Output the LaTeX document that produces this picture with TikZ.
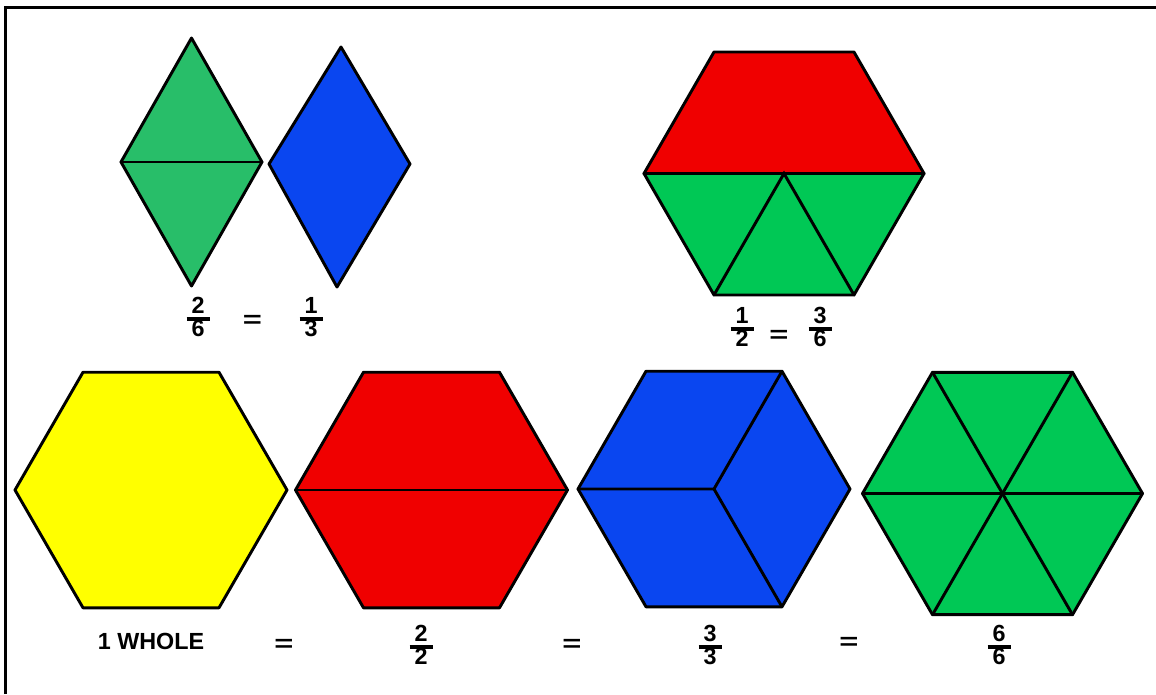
\documentclass[tikz,border=0pt]{standalone}
\usepackage{fontspec}
\setmainfont{Liberation Sans}
\definecolor{pbgreen}{RGB}{0,200,85}
\definecolor{pbgreenA}{RGB}{40,190,105}
\definecolor{pbred}{RGB}{240,0,0}
\definecolor{pbblue}{RGB}{10,70,240}
\definecolor{pbyellow}{RGB}{255,255,0}
% \myfrac{name}{x}{bar y}{numerator}{denominator}
\newcommand{\myfrac}[5]{%
  \node[lbl,anchor=base] (#1n) at (#2,#3-6) {#4};
  \coordinate (#1a) at (#2-11.5,#3);
  \coordinate (#1b) at (#2+11.5,#3);
  \draw[fracbar] (#1a) -- (#1b);
  \node[lbl,anchor=north] (#1d) at (#2,#3+1) {#5};
}
\begin{document}
\begin{tikzpicture}[x=0.75pt,y=-0.75pt,
  piece/.style={draw=black,line width=2.2pt,line join=round},
  inner/.style={draw=black,line width=2.2pt,line cap=round},
  fracbar/.style={draw=black,line width=2.3pt},
  lbl/.style={font=\fontsize{17.5}{18}\selectfont\bfseries,inner sep=0pt,text=black},
  eqs/.style={lbl,xscale=1.4}]
\useasboundingbox (0,0) rectangle (1156,694);
% frame
\coordinate (fb) at (5.5,694);
\coordinate (fc) at (5.5,7.5);
\coordinate (fr) at (1156,7.5);
\draw[line width=2.3pt] (fb) -- (fc) -- (fr);

% ---- green rhombus (two triangles)
\coordinate (gt) at (191.5,38);
\coordinate (gl) at (121,162);
\coordinate (gr) at (262,162);
\coordinate (gb) at (191.5,286);
\filldraw[piece,fill=pbgreenA] (gt) -- (gr) -- (gb) -- (gl) -- cycle;
\draw[inner] (gl) -- (gr);

% ---- blue rhombus
\coordinate (bt) at (341,47);
\coordinate (bl) at (269,164);
\coordinate (br) at (410,164);
\coordinate (bb) at (337,287);
\filldraw[piece,fill=pbblue] (bt) -- (br) -- (bb) -- (bl) -- cycle;

\myfrac{f26}{198}{319}{2}{6}
\node[eqs] (e1) at (252.5,321.5) {=};
\myfrac{f13}{311}{319}{1}{3}

% ---- top hexagon (red trapezoid + 3 green triangles)
\coordinate (hc) at (784,173.5);
\coordinate (hR) at (924,173.5);
\coordinate (hL) at (644,173.5);
\coordinate (hTR) at (854,52);
\coordinate (hTL) at (714,52);
\coordinate (hBR) at (854,295);
\coordinate (hBL) at (714,295);
\filldraw[piece,fill=pbred] (hL) -- (hTL) -- (hTR) -- (hR) -- cycle;
\filldraw[piece,fill=pbgreen] (hL) -- (hR) -- (hBR) -- (hBL) -- cycle;
\draw[inner] (hBL) -- (hc) -- (hBR);

\myfrac{f12}{742}{329}{1}{2}
\node[eqs] (e2) at (779,336.5) {=};
\myfrac{f36}{820}{329}{3}{6}

% ---- yellow hexagon
\coordinate (yc) at (151,490);
\filldraw[piece,fill=pbyellow] (yc) ++(0:136) -- ++(120:136) -- ++(180:136) -- ++(240:136) -- ++(300:136) -- ++(0:136) -- cycle;

% ---- red hexagon split in halves
\coordinate (rc) at (431.5,490);
\coordinate (rL) at (295.5,490);
\coordinate (rR) at (567.5,490);
\filldraw[piece,fill=pbred] (rc) ++(0:136) -- ++(120:136) -- ++(180:136) -- ++(240:136) -- ++(300:136) -- ++(0:136) -- cycle;
\draw[inner] (rL) -- (rR);

% ---- blue hexagon split in thirds
\coordinate (uc) at (714,489);
\coordinate (uL) at (578,489);
\coordinate (uTR) at (782,371.2);
\coordinate (uBR) at (782,606.8);
\filldraw[piece,fill=pbblue] (uc) ++(0:136) -- ++(120:136) -- ++(180:136) -- ++(240:136) -- ++(300:136) -- ++(0:136) -- cycle;
\draw[inner] (uL) -- (uc) -- (uTR);
\draw[inner] (uc) -- (uBR);

% ---- green hexagon split in sixths
\coordinate (sc) at (1002.5,493.5);
\coordinate (s0) at (1142.5,493.5);
\coordinate (s1) at (1072.5,372.3);
\coordinate (s2) at (932.5,372.3);
\coordinate (s3) at (862.5,493.5);
\coordinate (s4) at (932.5,614.7);
\coordinate (s5) at (1072.5,614.7);
\filldraw[piece,fill=pbgreen] (s0) -- (s1) -- (s2) -- (s3) -- (s4) -- (s5) -- cycle;
\draw[inner] (s0) -- (s3);
\draw[inner] (s1) -- (s4);
\draw[inner] (s2) -- (s5);

% ---- bottom labels
\node[lbl,anchor=base] (whole) at (151,649) {1 WHOLE};
\node[eqs] (e3) at (284,645) {=};
\myfrac{f22}{421}{647}{2}{2}
\node[eqs] (e4) at (572,645) {=};
\myfrac{f33}{710}{647}{3}{3}
\node[eqs] (e5) at (849,643) {=};
\myfrac{f66}{999}{647}{6}{6}
\end{tikzpicture}
\end{document}
